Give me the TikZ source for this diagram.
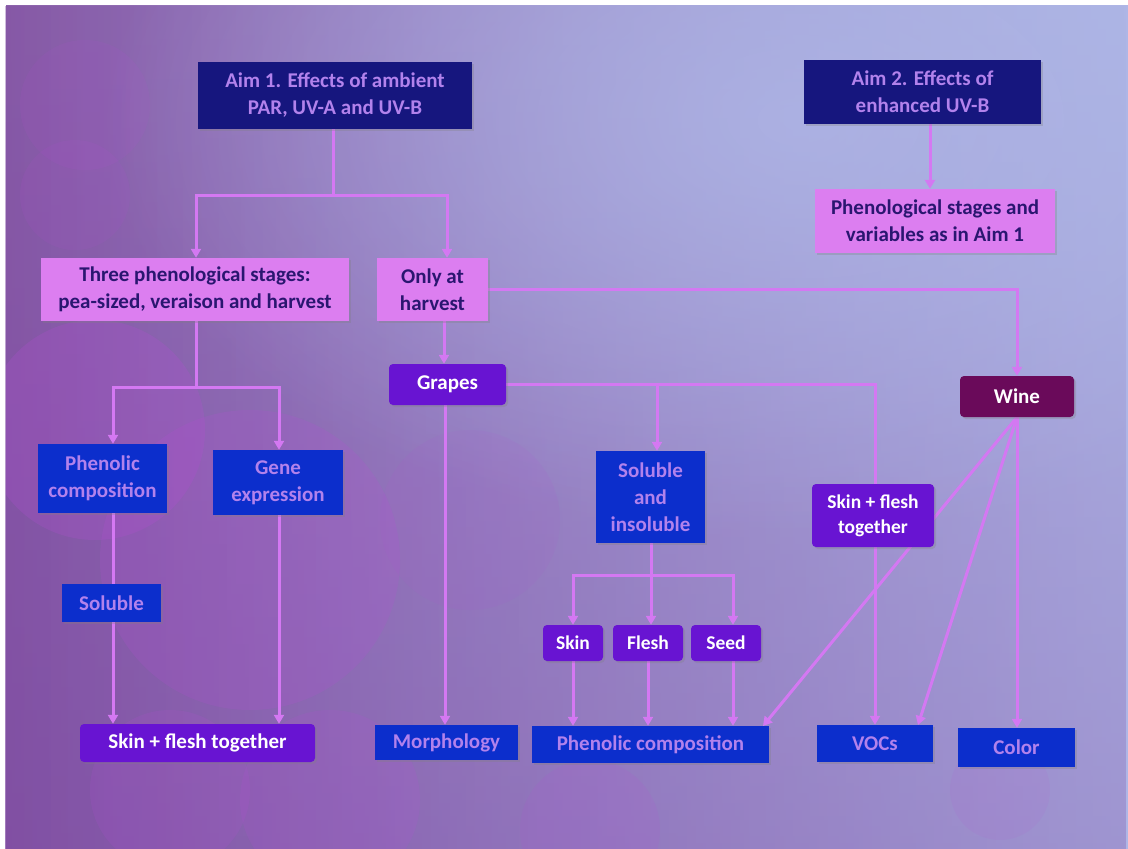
\documentclass[tikz,border=0pt]{standalone}
\usepackage{fontspec}
\setmainfont{Carlito}
\usetikzlibrary{arrows.meta,shadows,fadings,calc}
\pgfdeclarelayer{bg}
\pgfdeclarelayer{lines}
\pgfsetlayers{bg,lines,main}
\definecolor{navybox}{HTML}{16167E}
\definecolor{lilac}{HTML}{B282EC}
\definecolor{pinkbox}{HTML}{DC7EF0}
\definecolor{pinktext}{HTML}{2A1670}
\definecolor{bluebox}{HTML}{0C2ECC}
\definecolor{purplebox}{HTML}{6814D2}
\definecolor{winebox}{HTML}{6A0A5A}
\definecolor{conn}{HTML}{D478F2}
\definecolor{bgL}{HTML}{8C62AA}
\definecolor{bgUR}{HTML}{AEB6E6}
\definecolor{bgLow}{HTML}{7E4AA2}
\definecolor{grape}{HTML}{B84CD8}
\tikzfading[name=fadeup, top color=transparent!100, bottom color=transparent!0]
\tikzfading[name=fadeleft, left color=transparent!100, right color=transparent!0]
\tikzfading[name=faderight, left color=transparent!0, right color=transparent!100]
\tikzfading[name=softglow, inner color=transparent!0, outer color=transparent!100]
\tikzset{
  box/.style={rectangle, inner sep=2pt, align=center,
    font=\bfseries\fontsize{21}{27}\selectfont,
    drop shadow={opacity=0.3, shadow xshift=2pt, shadow yshift=-2pt}},
  small/.style={font=\bfseries\fontsize{19.5}{25}\selectfont},
  navy/.style={box, fill=navybox, text=lilac},
  pinkb/.style={box, fill=pinkbox, text=pinktext},
  blueb/.style={box, fill=bluebox, text=lilac},
  purp/.style={box, fill=purplebox, text=white, rounded corners=4pt},
  wineb/.style={box, fill=winebox, text=white, rounded corners=4pt},
  conn/.style={draw=conn, line width=3pt},
  arr/.style={conn, -{Triangle[width=10pt,length=9pt]}},
  grapecirc/.style={fill=grape, opacity=#1},
}
\begin{document}
\begin{tikzpicture}[x=1pt,y=-1pt]
\useasboundingbox (0,0) rectangle (1128,849);
\begin{pgfonlayer}{bg}
\fill[white] (0,0) rectangle (1128,849);
\shade[left color=bgL, right color=bgUR, middle color=bgUR!55!bgL] (6,5) rectangle (1128,849);
\fill[bgLow, path fading=fadeup, opacity=0.6] (6,5) rectangle (1128,849);
\fill[bgLow, path fading=faderight, opacity=0.35] (6,5) rectangle (1128,849);
\fill[bgUR, path fading=fadeleft, opacity=0.5] (6,5) rectangle (1128,849);
\begin{scope}
\clip (6,5) rectangle (1128,849);
\fill[bgUR, opacity=0.8, path fading=softglow] (800,120) ellipse (700 and 420);
\fill[grapecirc=0.10] (85,105) circle (65);
\fill[grapecirc=0.10] (75,195) circle (55);
\fill[grapecirc=0.22] (95,430) circle (110);
\fill[grapecirc=0.18] (250,560) circle (150);
\fill[grapecirc=0.15] (330,800) circle (90);
\fill[grapecirc=0.12] (590,830) circle (70);
\fill[grapecirc=0.15] (170,790) circle (80);
\fill[grapecirc=0.08] (470,520) circle (90);
\fill[grapecirc=0.08] (1000,790) circle (50);
\end{scope}
\end{pgfonlayer}

% nodes
\node[navy, minimum width=274pt, minimum height=67pt] (aim1) at (335,95.5) {Aim 1. Effects of ambient\\PAR, UV-A and UV-B};
\node[navy, minimum width=237pt, minimum height=64pt] (aim2) at (922.5,92) {Aim 2. Effects of\\enhanced UV-B};
\node[pinkb, minimum width=240pt, minimum height=64pt] (pheno2) at (935,221) {Phenological stages and\\variables as in Aim 1};
\node[pinkb, minimum width=308pt, minimum height=63pt] (three) at (195,289.5) {Three phenological stages:\\pea-sized, veraison and harvest};
\node[pinkb, minimum width=111pt, minimum height=63pt] (only) at (432.5,289.5) {Only at\\harvest};
\node[purp, minimum width=117pt, minimum height=41pt] (grapes) at (447.5,384.5) {Grapes};
\node[wineb, minimum width=114pt, minimum height=41pt] (wine) at (1017,396.5) {Wine};
\node[blueb, minimum width=129pt, minimum height=69pt] (phen1) at (102.5,478.5) {Phenolic\\composition};
\node[blueb, minimum width=130pt, minimum height=65pt] (gene) at (278,482.5) {Gene\\expression};
\node[blueb, minimum width=99pt, minimum height=38pt] (soluble) at (111.5,603) {Soluble};
\node[purp, minimum width=235pt, minimum height=38pt] (sf1) at (197.5,743) {Skin + flesh together};
\node[blueb, minimum width=109pt, minimum height=92pt] (solins) at (650.5,497) {Soluble\\and\\insoluble};
\node[purp, small, minimum width=122pt, minimum height=63pt] (sf2) at (873,515.5) {Skin + flesh\\together};
\node[purp, small, minimum width=60pt, minimum height=36pt] (skin) at (573,643) {Skin};
\node[purp, small, minimum width=70pt, minimum height=36pt] (flesh) at (648,643) {Flesh};
\node[purp, small, minimum width=70pt, minimum height=36pt] (seed) at (726,643) {Seed};
\node[blueb, minimum width=143pt, minimum height=35pt] (morph) at (446.5,742.5) {Morphology};
\node[blueb, minimum width=237pt, minimum height=37pt] (phen2) at (650.5,744.5) {Phenolic composition};
\node[blueb, minimum width=116pt, minimum height=37pt] (vocs) at (875,743.5) {VOCs};
\node[blueb, minimum width=117pt, minimum height=39pt] (color) at (1016.5,747.5) {Color};

% junction coordinates
\coordinate (j1) at (333,195);
\coordinate (j2) at (196,387);
\coordinate (j3) at (651,575);
\coordinate (jg) at (657,384);

\begin{pgfonlayer}{lines}
\draw[arr] (aim2.south -| 930,0) -- (pheno2.north -| 930,0);
\draw[conn] (aim1.south -| j1) -- (j1);
\draw[arr] (j1) -| (three.north -| 196,0);
\draw[arr] (j1) -| (only.north -| 447,0);
\draw[conn] (three.south -| j2) -- (j2);
\draw[arr] (j2) -| (phen1.north -| 113,0);
\draw[arr] (j2) -| (gene.north -| 279,0);
\draw[arr] (phen1.south -| 113,0) -- (sf1.north -| 113,0);
\draw[arr] (gene.south -| 279,0) -- (sf1.north -| 279,0);
\draw[arr] (only.south -| 444,0) -- (grapes.north -| 444,0);
\draw[arr] (only.east) -| (wine.north);
\draw[arr] (grapes.east) -| (vocs.north);
\draw[arr] (jg) -- (solins.north -| jg);
\draw[arr] (grapes.south -| 445,0) -- (morph.north -| 445,0);
\draw[conn] (solins.south -| j3) -- (j3);
\draw[arr] (j3) -| (skin.north);
\draw[arr] (j3) -| (seed.north -| 733,0);
\draw[arr] (j3) -- (flesh.north -| j3);
\draw[arr] (skin.south) -- (phen2.north -| skin.south);
\draw[arr] (flesh.south) -- (phen2.north -| flesh.south);
\draw[arr] (seed.south -| 733,0) -- (phen2.north -| 733,0);
\draw[arr] (wine.south) -- (763,726);
\draw[arr] (wine.south) -- (918,725);
\draw[arr] (wine.south) -- (color.north -| wine.south);
\end{pgfonlayer}
\end{tikzpicture}
\end{document}
